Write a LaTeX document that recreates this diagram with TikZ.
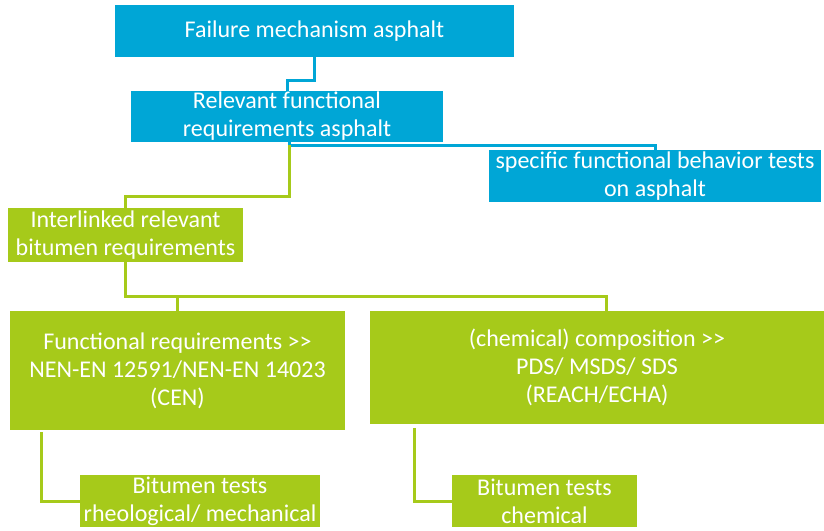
\documentclass[tikz,border=0pt]{standalone}
\usepackage{fontspec}
\setmainfont{Carlito}
\usepackage{tikz}

\definecolor{skyblue}{RGB}{0,166,214}
\definecolor{limegreen}{RGB}{166,202,26}

\tikzset{
  bluebox/.style={fill=skyblue, text=white, align=center, inner sep=0pt, font=\fontsize{24}{28}\selectfont},
  greenbox/.style={fill=limegreen, text=white, align=center, inner sep=0pt, font=\fontsize{24}{28}\selectfont},
  blueline/.style={draw=skyblue, line width=3pt},
  greenline/.style={draw=limegreen, line width=3pt}
}

\begin{document}
\begin{tikzpicture}[x=1pt, y=-1pt]
        \useasboundingbox (0,0) rectangle (824,530);

        % Asphalt level
        \node[bluebox, minimum width=399pt, minimum height=52pt] (failure) at (314.5, 31) {Failure mechanism asphalt};
        \node[bluebox, minimum width=312pt, minimum height=51pt] (relevant) at (287, 116.5) {Relevant functional\\requirements asphalt};
        \node[bluebox, minimum width=332pt, minimum height=52pt] (spectests) at (655, 176) {specific functional behavior tests\\on asphalt};
        \draw[blueline] (failure.south) -- ++(0,23) -| (relevant.north);
        \draw[blueline] ([xshift=2pt]relevant.south) -- ++(0,3) -| (spectests.north);

        % Bitumen level
        \node[greenbox, minimum width=235pt, minimum height=54pt] (interlinked) at (125.5, 235) {Interlinked relevant\\bitumen requirements};
        \draw[greenline] ([xshift=2pt, yshift=-3pt]relevant.south) -- ++(0,51) -| (interlinked.north);

        \node[greenbox, minimum width=335pt, minimum height=119pt] (functional) at (177.5, 370.5) {Functional requirements >{}>\\NEN-EN 12591/NEN-EN 14023\\(CEN)};
        \node[greenbox, minimum width=454pt, minimum height=113pt] (composition) at (597, 367.5) {(chemical) composition >{}>\\PDS/ MSDS/ SDS\\(REACH/ECHA)};
        \draw[greenline] (interlinked.south) -- ++(0,34) -| (functional.north);
        \draw[greenline] (interlinked.south) -- ++(0,34) -| ([xshift=9pt]composition.north);

        % Tests
        \node[greenbox, minimum width=240pt, minimum height=52pt] (rheotests) at (200, 501) {Bitumen tests\\rheological/ mechanical};
        \node[greenbox, minimum width=185pt, minimum height=52pt] (chemtests) at (544.5, 501) {Bitumen tests\\chemical};
        \draw[greenline] ([xshift=32pt, yshift=-2pt]functional.south west) |- (rheotests.west);
        \draw[greenline] ([xshift=45pt, yshift=-4pt]composition.south west) |- (chemtests.west);
    \end{tikzpicture}
\end{document}
